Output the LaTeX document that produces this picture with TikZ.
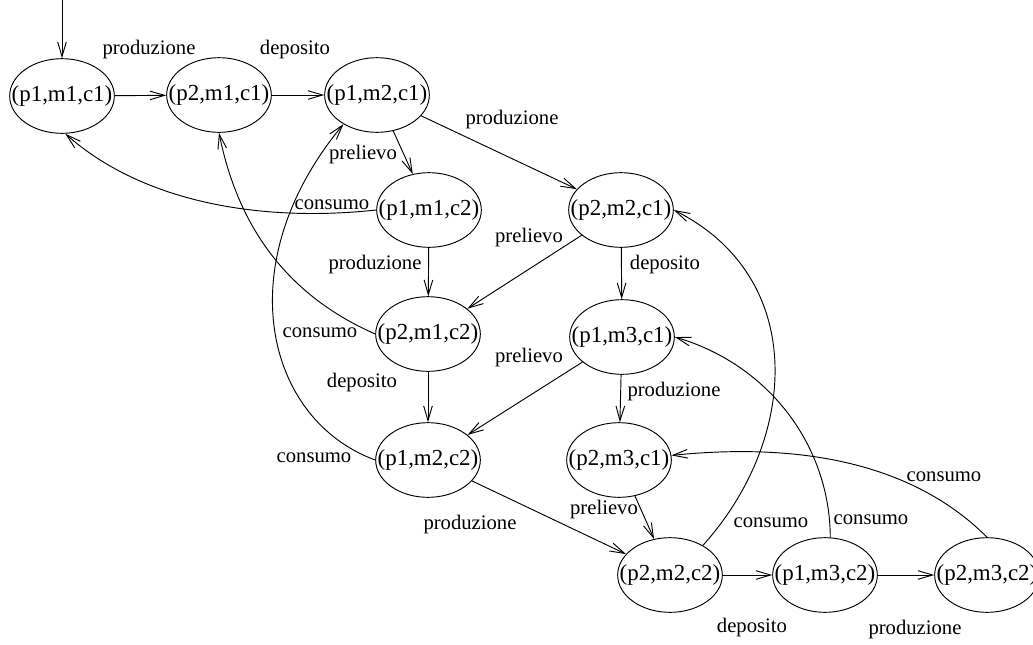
\documentclass[tikz,border=0pt]{standalone}
\usepackage{fontspec}
\setmainfont{Liberation Serif}
\usetikzlibrary{shapes.geometric,arrows.meta}
% zero-width box so the ellipse size is set only by its minimum size
\newcommand\statetext[1]{\makebox[0pt]{#1}}
\begin{document}
\begin{tikzpicture}[x=0.75pt,y=-0.75pt,
  every node/.style={font=\fontsize{15.5pt}{18pt}\selectfont},
  state/.style={draw, ellipse, line width=0.7pt, minimum width=78.5pt,
    minimum height=56pt, inner sep=0pt, font=\fontsize{17.2pt}{20pt}\selectfont},
  lbl/.style={inner sep=0pt},
  trans/.style={line width=0.7pt, -{Straight Barb[length=11pt,width=6.5pt]}}]
\clip (0,0) rectangle (1033,644);

% states (producer, buffer, consumer)
\node[state] (n111) at (62,96)  {\statetext{(p1,m1,c1)}};
\node[state] (n211) at (219,95) {\statetext{(p2,m1,c1)}};
\node[state] (n121) at (377,95) {\statetext{(p1,m2,c1)}};
\node[state] (n112) at (429,210) {\statetext{(p1,m1,c2)}};
\node[state] (n221) at (621,210) {\statetext{(p2,m2,c1)}};
\node[state] (n212) at (428,334) {\statetext{(p2,m1,c2)}};
\node[state] (n131) at (622,337) {\statetext{(p1,m3,c1)}};
\node[state] (n122) at (428,460) {\statetext{(p1,m2,c2)}};
\node[state] (n231) at (619,460) {\statetext{(p2,m3,c1)}};
\node[state] (n222) at (670,575) {\statetext{(p2,m2,c2)}};
\node[state] (n132) at (825,575) {\statetext{(p1,m3,c2)}};
\node[state] (n232) at (987,575) {\statetext{(p2,m3,c2)}};

% initial state
\coordinate (init) at (62,0);
\draw[trans] (init) -- (n111);

% straight transitions
\draw[trans] (n111) -- (n211);
\draw[trans] (n211) -- (n121);
\draw[trans] (n121) -- (n221);
\draw[trans] (n121) -- (n112);
\draw[trans] (n112) -- (n212);
\draw[trans] (n221) -- (n212);
\draw[trans] (n221) -- (n131);
\draw[trans] (n212) -- (n122);
\draw[trans] (n131) -- (n122);
\draw[trans] (n131) -- (n231);
\draw[trans] (n122) -- (n222);
\draw[trans] (n231) -- (n222);
\draw[trans] (n222) -- (n132);
\draw[trans] (n132) -- (n232);

% consumption transitions (curved)
\draw[trans] (n112.west) .. controls (266,222) and (145.5,204.6) .. (n111.-85);
\draw[trans] (n212.west) .. controls (301,301.4) and (241,242) .. (n211.south);
\draw[trans] (n122.west) .. controls (265,419.5) and (227.8,263.6) .. (n121.-139);
\draw[trans] (n222.42) .. controls (799,439) and (808,277.5) .. (n221.east);
\draw[trans] (n132.82) .. controls (830,447) and (770,365) .. (n131.east);
\draw[trans] (n232.north) .. controls (924,474) and (823,440) .. (n231.5);

% transition labels
\node[lbl] (l1)  at (149,50)  {produzione};
\node[lbl] (l2)  at (295,50)  {deposito};
\node[lbl] (l3)  at (512,120) {produzione};
\node[lbl] (l4)  at (363,155) {prelievo};
\node[lbl] (l5)  at (332,205) {consumo};
\node[lbl] (l6)  at (529,238) {prelievo};
\node[lbl] (l7)  at (375,265) {produzione};
\node[lbl] (l8)  at (665,265) {deposito};
\node[lbl] (l9)  at (320,333) {consumo};
\node[lbl] (l10) at (529,358) {prelievo};
\node[lbl] (l11) at (362,383) {deposito};
\node[lbl] (l12) at (674,392) {produzione};
\node[lbl] (l13) at (314,458) {consumo};
\node[lbl] (l14) at (604,510) {prelievo};
\node[lbl] (l15) at (470,525) {produzione};
\node[lbl] (l16) at (771,523) {consumo};
\node[lbl] (l17) at (871,520) {consumo};
\node[lbl] (l18) at (944,477) {consumo};
\node[lbl] (l19) at (752,628) {deposito};
\node[lbl] (l20) at (915,630) {produzione};
\end{tikzpicture}
\end{document}
